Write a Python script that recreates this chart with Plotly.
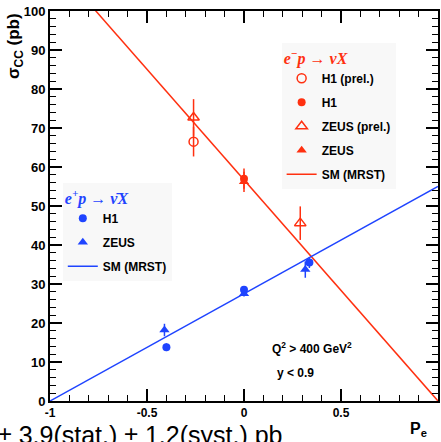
import plotly.graph_objects as go

RED = "#ff3010"
BLUE = "#1f44ff"

# e- p data
em_h1p_pe = [-0.26]; em_h1p_sig = [66.5]; em_h1p_err = [3.8]
em_h1_pe = [0.0]; em_h1_sig = [57.0]; em_h1_err = [2.6]
em_zp_pe = [-0.26, 0.29]; em_zp_sig = [72.7, 45.6]; em_zp_err = [4.7, 4.3]
em_z_pe = [0.0]; em_z_sig = [56.2]; em_z_err = [2.6]
em_sm_pe = [-1.0, 1.0]; em_sm_sig = [113.4, 0.0]

# e+ p data
ep_h1_pe = [-0.40, 0.0, 0.337]; ep_h1_sig = [13.8, 28.5, 35.5]; ep_h1_err = [1.0, 0.8, 1.4]
ep_z_pe = [-0.41, 0.0, 0.316]; ep_z_sig = [18.2, 27.5, 33.7]; ep_z_err = [1.6, 0.7, 2.1]
ep_sm_pe = [-1.0, 1.0]; ep_sm_sig = [0.0, 55.0]

x_tickvals = [-1, -0.5, 0, 0.5, 1]
x_ticktext = ["-1", "-0.5", "0", "0.5", "1"]
y_tickvals = [0, 10, 20, 30, 40, 50, 60, 70, 80, 90, 100]

FONT = "Liberation Sans"

def err(arr, color):
    return dict(type="data", array=arr, width=0, thickness=1.5, color=color, visible=True)

fig = go.Figure()

# red legend
fig.add_trace(go.Scatter(x=em_h1p_pe, y=em_h1p_sig, mode="markers", name="H1 (prel.)",
                         marker=dict(symbol="circle-open", size=9, color=RED, line=dict(width=1.5, color=RED)),
                         error_y=err(em_h1p_err, RED), legend="legend", legendgroup="r1"))
fig.add_trace(go.Scatter(x=em_h1_pe, y=em_h1_sig, mode="markers", name="H1",
                         marker=dict(symbol="circle", size=8, color=RED),
                         error_y=err(em_h1_err, RED), legend="legend", legendgroup="r2"))
fig.add_trace(go.Scatter(x=em_zp_pe, y=em_zp_sig, mode="markers", name="ZEUS (prel.)",
                         marker=dict(symbol="triangle-up-open", size=10, color=RED, line=dict(width=1.5, color=RED)),
                         error_y=err(em_zp_err, RED), legend="legend", legendgroup="r3"))
fig.add_trace(go.Scatter(x=em_z_pe, y=em_z_sig, mode="markers", name="ZEUS",
                         marker=dict(symbol="triangle-up", size=9, color=RED),
                         error_y=err(em_z_err, RED), legend="legend", legendgroup="r4"))
fig.add_trace(go.Scatter(x=em_sm_pe, y=em_sm_sig, mode="lines", name="SM (MRST)",
                         line=dict(color=RED, width=1.5), legend="legend", legendgroup="r5"))

# blue legend
fig.add_trace(go.Scatter(x=ep_h1_pe, y=ep_h1_sig, mode="markers", name="H1",
                         marker=dict(symbol="circle", size=8, color=BLUE),
                         error_y=err(ep_h1_err, BLUE), legend="legend2", legendgroup="b1"))
fig.add_trace(go.Scatter(x=ep_z_pe, y=ep_z_sig, mode="markers", name="ZEUS",
                         marker=dict(symbol="triangle-up", size=9, color=BLUE),
                         error_y=err(ep_z_err, BLUE), legend="legend2", legendgroup="b2"))
fig.add_trace(go.Scatter(x=ep_sm_pe, y=ep_sm_sig, mode="lines", name="SM (MRST)",
                         line=dict(color=BLUE, width=1.5), legend="legend2", legendgroup="b3"))

axis_common = dict(showline=True, linewidth=2, linecolor="black", mirror="ticks",
                   ticks="inside", ticklen=12, tickwidth=1.5, tickcolor="black",
                   showgrid=False, zeroline=False,
                   tickfont=dict(family=FONT, size=12, color="black", weight="bold"))

fig.update_xaxes(range=[-1, 1], tickmode="array", tickvals=x_tickvals, ticktext=x_ticktext,
                 minor=dict(ticks="inside", ticklen=6, tickwidth=1.2, dtick=0.1, tickcolor="black", showgrid=False),
                 **axis_common)
fig.update_yaxes(range=[0, 100], tickmode="array", tickvals=y_tickvals,
                 minor=dict(ticks="inside", ticklen=6, tickwidth=1.2, dtick=2, tickcolor="black", showgrid=False),
                 **axis_common)
fig.update_yaxes(tickfont=dict(size=13))

leg_font = dict(family=FONT, size=12, color="black", weight="bold")
fig.update_layout(
    width=441, height=442,
    margin=dict(l=50, r=1, t=11, b=41),
    paper_bgcolor="white", plot_bgcolor="white",
    showlegend=True,
    legend=dict(x=0.597, y=0.918, xanchor="left", yanchor="top", bgcolor="#f8f8f8",
                font=leg_font, tracegroupgap=5,
                title=dict(text="<i>e<sup>−</sup>p → νX</i>",
                           font=dict(family="Liberation Serif", size=16, color=RED, weight="bold"))),
    legend2=dict(x=0.033, y=0.559, xanchor="left", yanchor="top", bgcolor="#f8f8f8",
                 font=leg_font, tracegroupgap=5,
                 title=dict(text="<i>e<sup>+</sup>p → ν̄X</i>",
                            font=dict(family="Liberation Serif", size=16, color=BLUE, weight="bold"))),
)

fig.add_annotation(text="σ<sub>CC</sub> (pb)", textangle=-90, xref="paper", yref="paper",
                   x=-0.09, y=1.0, xanchor="center", yanchor="top", showarrow=False,
                   font=dict(family=FONT, size=17, color="black", weight="bold"))
fig.add_annotation(text="P<sub>e</sub>", xref="paper", yref="paper",
                   x=0.976, y=-0.072, xanchor="right", yanchor="middle", showarrow=False,
                   font=dict(family=FONT, size=16, color="black", weight="bold"))
fig.add_annotation(text="Q<sup>2</sup> > 400 GeV<sup>2</sup>", xref="paper", yref="paper",
                   x=(313 - 50) / 390, y=(401 - 348) / 390, xanchor="center", yanchor="middle",
                   showarrow=False, font=dict(family=FONT, size=12, color="black", weight="bold"))
fig.add_annotation(text="y < 0.9", xref="paper", yref="paper",
                   x=(297 - 50) / 390, y=(401 - 373) / 390, xanchor="center", yanchor="middle",
                   showarrow=False, font=dict(family=FONT, size=12, color="black", weight="bold"))
fig.add_annotation(text="± 3.9(stat.) ± 1.2(syst.) pb", xref="paper", yref="paper",
                   x=(-4 - 50) / 390, y=(401 - 435) / 390, xanchor="left", yanchor="middle",
                   showarrow=False, font=dict(family=FONT, size=25, color="black"))

fig.write_html("out.html", config={"displayModeBar": False},
               post_script="document.body.style.margin='0';document.body.style.overflow='hidden';")
